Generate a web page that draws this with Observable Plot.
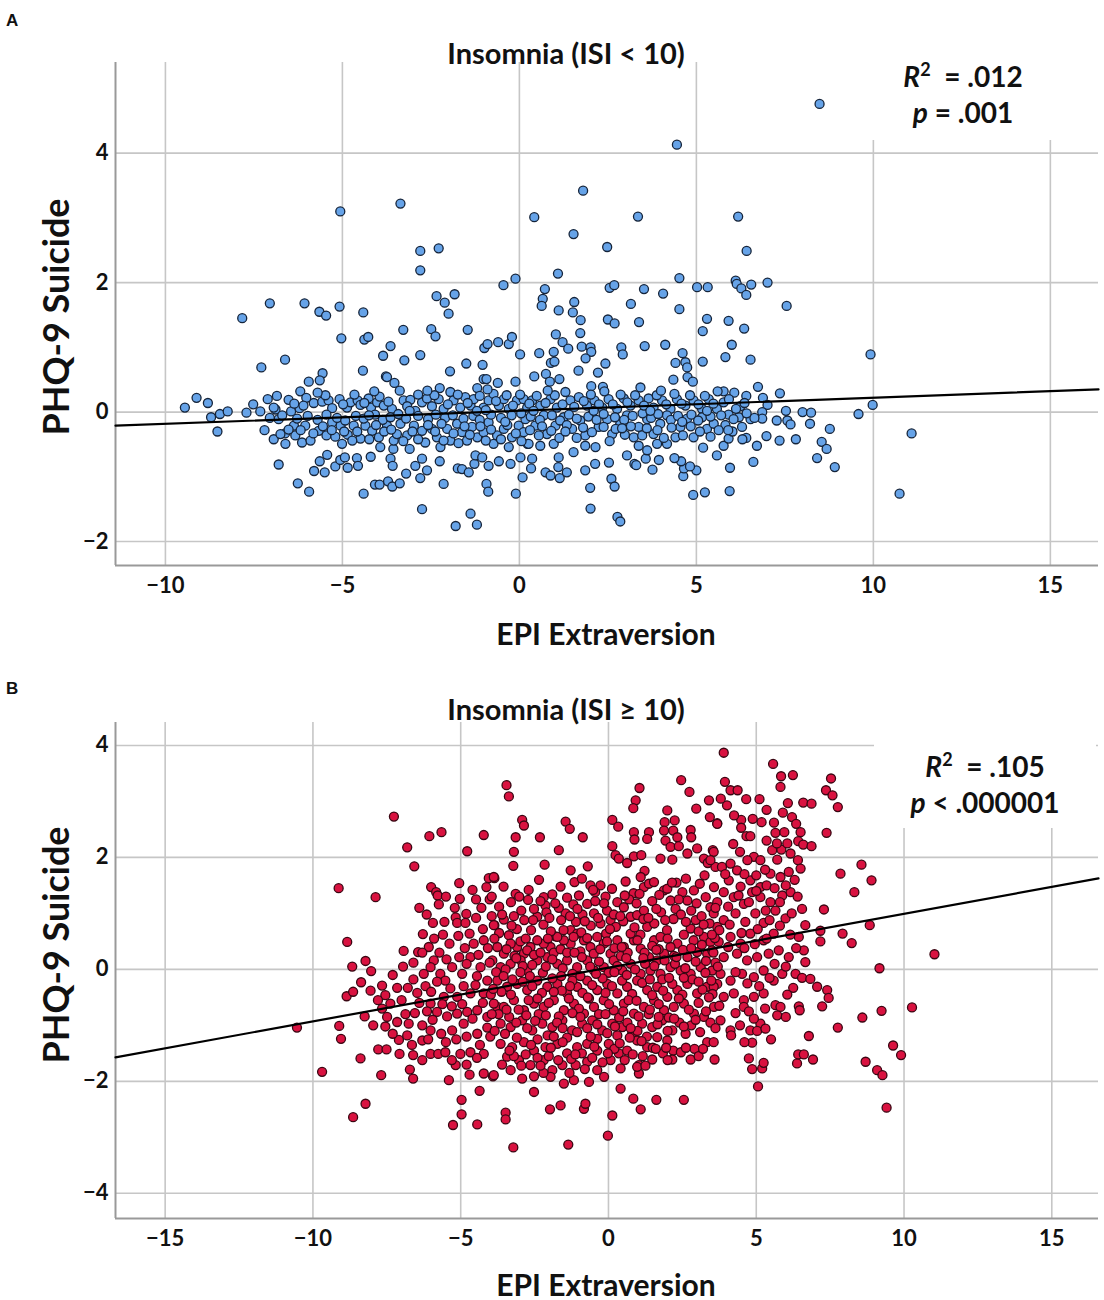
<!DOCTYPE html>
<html>
<head>
<meta charset="utf-8">
<script src="https://cdn.jsdelivr.net/npm/d3@7"></script>
<script src="https://cdn.jsdelivr.net/npm/@observablehq/plot@0.6"></script>
<style>
  html, body { margin: 0; padding: 0; background: #fff; }
  #page { position: relative; width: 1104px; height: 1300px; background: #fff; font-family: Lato, "Open Sans", sans-serif; color: #111; }
  .panel { position: absolute; left: 0; }
  .tag { position: absolute; font-family: "Liberation Sans", Arial, sans-serif; font-weight: bold; font-size: 17px; }
  .title { position: absolute; transform: translate(-50%, -50%); font-weight: bold; font-size: 29px; white-space: nowrap; }
  .xlabel { position: absolute; transform: translate(-50%, -50%); font-weight: bold; font-size: 30px; white-space: nowrap; }
  .ylabel { position: absolute; transform: translate(-50%, -50%) rotate(-90deg); font-weight: bold; font-size: 36px; white-space: nowrap; }
  .stat { position: absolute; background: #fff; font-weight: bold; font-size: 28px; text-align: center; line-height: 36px; }
  .stat i { font-style: italic; }
  .stat sup { font-size: 18px; font-style: normal; vertical-align: 11px; line-height: 0; }
</style>
</head>
<body>
<div id="page"></div>
<script>
// ---------- Panel A data: Insomnia (ISI < 10) — [EPI Extraversion, PHQ-9 Suicide]
const pointsLowISI = [
[-9.45,0.07],[-9.12,0.22],[-8.80,0.14],[-8.71,-0.08],[-8.46,-0.03],[-8.24,0.01],[-8.53,-0.30],[-7.83,1.45],
[-7.05,1.68],[-6.07,1.68],[-5.65,1.55],[-5.46,1.49],[-5.08,1.63],[-4.41,1.54],[-7.29,0.69],[-6.62,0.81],[-5.03,1.14],[-4.38,1.12],[-4.27,1.16],[-3.28,1.27],[-3.64,1.02],[-3.85,0.87],[-3.25,0.80],[-4.42,0.64],[-3.77,0.55],[-5.56,0.60],[-6.89,0.04],[-6.62,-0.33],[-3.56,-0.57],[-5.06,3.10],
[-6.80,-0.81],[-6.26,-1.10],[-5.94,-1.23],[-5.64,-0.76],[-5.80,-0.91],[-5.50,-0.93],[-5.43,-0.66],[-5.20,-0.84],[-5.06,-0.74],[-4.93,-0.70],[-4.85,-0.86],[-4.59,-0.71],[-4.56,-0.83],[-4.40,-1.26],[-4.08,-1.12],[-3.95,-1.12],[-3.71,-1.07],[-3.59,-1.15],[-3.38,-1.10],[-4.20,-0.69],[-3.64,-0.72],[-3.58,-0.83],[-3.20,-0.95],
[-3.36,3.22],[-2.80,2.49],[-2.28,2.53],[-2.80,2.19],[1.80,3.42],[0.42,3.01],[3.35,3.02],[1.53,2.75],[2.48,2.55],[1.09,2.14],[-0.45,1.96],[-0.11,2.06],[-2.34,1.79],[-1.83,1.82],[-2.11,1.69],[-2.00,1.52],[-2.49,1.28],[-2.37,1.17],[-1.46,1.27],[-2.80,0.88],[-1.96,0.63],[-1.50,0.75],[-1.04,0.73],[-1.01,0.51],[-0.93,0.51],
[-0.99,0.99],[-0.90,1.05],[-0.60,1.08],[-0.30,1.05],[-0.21,1.16],[0.02,0.89],[-0.11,0.47],[-0.61,0.45],[-1.19,0.37],[-2.25,0.37],[0.72,1.90],[0.66,1.75],[0.63,1.64],[1.11,1.57],[1.55,1.70],[1.51,1.54],[1.73,1.42],[1.03,1.20],[1.22,1.08],[1.38,0.98],[1.72,1.22],[1.76,1.01],[2.01,1.00],[2.03,0.93],[1.87,0.83],[0.97,0.93],[0.56,0.91],[0.89,0.76],[0.99,0.78],[0.75,0.59],[0.86,0.47],[1.13,0.51],[0.42,0.55],[1.67,0.64],[2.22,0.61],[2.43,0.75],[2.03,0.40],[2.36,0.39],[2.55,1.92],[2.68,1.96],[2.50,1.43],[2.69,1.37],[3.15,1.67],[3.52,1.90],[4.06,1.83],[3.38,1.39],[2.88,1.00],[2.92,0.89],[3.54,1.02],[4.12,1.04],[3.42,0.38],
[-2.80,-1.02],[-2.61,-0.90],[-2.14,-1.11],[-2.75,-1.50],[-1.80,-1.76],[-1.38,-1.57],[-1.20,-1.74],[-1.74,-0.87],[-1.62,-0.88],[-1.43,-0.93],[-1.27,-0.80],[-0.93,-1.11],[-0.88,-1.23],[-0.10,-1.26],[0.09,-1.01],[0.33,-0.87],[0.74,-0.93],[0.88,-0.98],[1.14,-1.02],[1.34,-0.93],[1.10,-0.85],[1.86,-0.90],[2.00,-1.17],[2.01,-1.49],[2.14,-0.80],[2.53,-0.78],[2.60,-1.03],[2.69,-1.15],[2.77,-1.62],[2.85,-1.69],[3.25,-0.80],[3.30,-0.82],[3.57,-0.72],[3.76,-0.89],[3.94,-0.74],
[8.48,4.76],[4.45,4.13],[6.18,3.02],[6.42,2.49],[4.52,2.07],[5.02,1.93],[5.32,1.93],[6.11,2.03],[6.14,1.98],[6.27,1.91],[6.41,1.81],[6.55,1.97],[7.01,2.00],[7.55,1.64],[4.52,1.59],[5.30,1.44],[5.18,1.25],[5.91,1.41],[6.35,1.29],[6.00,1.04],[4.61,0.91],[4.69,0.77],[4.74,0.69],[4.41,0.76],[5.18,0.78],[5.82,0.85],[6.53,0.81],[4.35,0.50],[4.75,0.54],[4.90,0.47],[9.92,0.89],[9.98,0.11],[9.58,-0.03],[11.08,-0.33],[10.74,-1.26],[8.91,-0.85],[8.77,-0.26],[8.54,-0.46],[8.68,-0.57],[8.41,-0.71],[8.00,0.00],[8.24,-0.01],[8.21,-0.18],[7.81,-0.42],[7.36,0.29],[7.53,0.02],[7.57,-0.13],[7.66,-0.19],[7.27,-0.13],[7.35,-0.44],[6.98,-0.37],[6.71,-0.52],[6.61,-0.77],[6.74,0.39],[6.88,0.22],[7.01,0.11],[6.86,0.00],[6.86,-0.10],[6.41,-0.40],[6.29,-0.23],[6.53,-0.11],[6.64,-0.09],[6.07,0.30],[6.41,0.25],[5.77,0.32],[5.95,-0.86],[5.94,-1.22],[5.58,-0.67],[5.77,-0.52],[5.91,-0.41],[5.19,-0.55],[4.91,-1.28],[5.24,-1.24],[5.00,-0.90],[4.63,-0.99],[4.65,-0.87],[4.82,-0.84],[4.57,-0.76],[4.38,-0.71],
[-7.71,-0.01],[-7.52,0.12],[-7.32,0.01],[-7.11,0.20],[-6.94,0.07],[-6.80,-0.11],[-6.52,0.19],[-6.45,0.01],[-6.21,0.06],[-6.19,0.32],[-5.95,0.47],[-5.64,0.49],[-5.81,0.14],[-5.57,0.16],[-5.39,0.18],[-5.29,0.06],[-5.08,0.20],[-4.87,0.07],[-4.77,0.15],[-4.57,0.18],[-4.49,0.11],[-4.26,0.21],[-4.19,0.07],[-4.02,0.15],[-3.83,0.10],[-3.74,0.54],[-3.53,0.45],[-3.38,0.33],[-3.60,0.05],[-3.27,0.18],[-3.08,0.19],[-2.94,0.02],[-2.75,0.15],[-2.61,0.21],[-2.47,0.09],[-2.28,0.20],[-2.14,0.05],[-1.95,0.31],[-1.86,0.18],[-1.67,0.07],[-1.53,0.23],[-1.38,0.10],[-1.29,0.20],[-1.01,0.07],[-0.87,0.18],[-0.73,0.28],[-0.58,0.10],[-0.44,0.20],[-0.30,0.05],[-0.07,0.18],[0.12,0.20],[0.22,0.07],
[-6.94,-0.42],[-6.75,-0.34],[-6.61,-0.49],[-6.37,-0.21],[-6.33,-0.36],[-6.14,-0.47],[-5.90,-0.44],[-6.05,-0.21],[-5.67,-0.29],[-5.45,-0.36],[-5.29,-0.16],[-5.05,-0.21],[-5.01,-0.49],[-4.85,-0.35],[-4.68,-0.21],[-4.49,-0.41],[-4.35,-0.21],[-4.16,-0.29],[-3.97,-0.39],[-3.93,-0.54],[-3.74,-0.21],[-3.55,-0.44],[-3.46,-0.34],[-3.36,-0.18],[-3.17,-0.36],[-3.10,-0.57],[-2.98,-0.21],[-2.75,-0.29],[-2.66,-0.47],[-2.47,-0.26],[-2.33,-0.39],[-2.23,-0.54],[-2.04,-0.26],[-1.95,-0.44],[-1.76,-0.18],[-1.62,-0.31],[-1.48,-0.44],[-1.34,-0.23],[-1.19,-0.39],[-1.01,-0.31],[-0.87,-0.16],[-0.73,-0.49],[-0.63,-0.36],[-0.44,-0.26],[-0.30,-0.54],[-0.21,-0.39],[-0.02,-0.21],[0.12,-0.31],[0.23,-0.49],
[-2.94,-0.83],[-2.75,-0.72],[-2.25,-0.76],[-1.24,-0.67],[-1.05,-0.70],[-0.87,-0.83],[-0.58,-0.76],[-0.25,-0.80],[0.03,-0.70],
[0.36,0.18],[0.59,0.10],[0.88,0.20],[1.06,0.07],[1.30,0.31],[1.44,0.18],[1.68,0.23],[1.91,0.10],[2.12,0.18],[2.34,0.07],[2.52,0.20],[2.76,0.05],[2.95,0.21],[3.14,0.10],[3.37,0.18],[3.65,0.21],[3.79,0.07],[4.03,0.18],[4.27,0.05],[4.45,0.20],[4.69,0.10],[4.92,0.18],[5.16,0.05],[5.35,0.20],[5.58,0.05],[5.77,0.15],[6.24,0.09],
[0.17,-0.11],[0.45,-0.21],[0.69,-0.05],[0.78,-0.34],[1.02,-0.21],[1.25,-0.08],[1.49,-0.26],[1.72,-0.13],[1.86,-0.36],[2.05,-0.04],[2.24,-0.23],[2.48,-0.11],[2.62,-0.34],[2.85,-0.18],[3.04,-0.05],[3.23,-0.39],[3.37,-0.23],[3.61,-0.11],[3.79,-0.34],[3.98,-0.18],[4.17,-0.05],[4.41,-0.39],[4.55,-0.23],[4.74,-0.10],[4.92,-0.39],[5.16,-0.08],[5.30,-0.26],[5.49,-0.18],[5.82,-0.20],[5.91,-0.04],[6.20,-0.08],
[0.26,-0.49],[0.59,-0.52],[0.97,-0.49],[1.11,-0.70],[0.36,-0.72],[1.53,-0.62],[1.86,-0.52],[2.15,-0.54],[3.04,-0.67],[3.37,-0.52],[3.61,-0.59],[3.89,-0.49],[4.17,-0.49],
[-7.05,-0.09],[-6.70,-0.05],[-6.28,-0.10],[-5.98,-0.06],[-5.70,-0.12],[-5.45,-0.04],[-5.15,-0.09],[-4.92,-0.13],[-4.62,-0.06],[-4.40,-0.10],[-4.08,-0.04],[-3.86,-0.12],[-3.64,-0.08],[-3.42,-0.03],[-3.20,-0.10],[-2.86,-0.06],[-2.58,-0.11],[-2.36,-0.04],[-2.10,-0.09],[-1.88,-0.05],[-1.58,-0.10],[-1.30,-0.06],[-1.12,-0.12],[-0.80,-0.04],[-0.52,-0.09],[-0.22,-0.05],[0.05,-0.02],[0.32,-0.07],[0.58,-0.12],[0.92,-0.05],[1.15,-0.13],[1.40,-0.04],[1.62,-0.10],[1.95,-0.07],[2.18,-0.12],[2.38,-0.03],[2.70,-0.08],[2.96,-0.12],[3.20,-0.06],[3.48,-0.02],[3.72,-0.09],[3.92,-0.03],[4.28,-0.12],[4.48,-0.06],[4.86,-0.04],[5.05,-0.13],[5.40,-0.07],[5.70,-0.05],[6.05,-0.11],[6.42,-0.02],
[-6.85,0.25],[-6.36,0.13],[-6.02,0.22],[-5.48,0.26],[-4.98,0.12],[-4.66,0.27],[-4.38,0.14],[-3.95,0.24],[-3.70,0.16],[-3.17,0.09],[-2.86,0.27],[-2.40,0.26],[-2.02,0.12],[-1.74,0.27],[-1.46,0.14],[-1.12,0.25],[-0.95,0.03],[-0.66,0.17],[-0.36,0.26],[-0.18,0.10],[0.02,0.27],[0.28,0.13],[0.49,0.25],[0.74,0.14],[1.00,0.26],[1.22,0.12],[1.55,0.08],[1.82,0.17],[2.02,0.27],[2.25,0.12],[2.64,0.12],[2.86,0.27],[3.05,0.15],[3.27,0.26],[3.52,0.10],[3.88,0.26],[4.15,0.12],[4.38,0.28],[4.58,0.13],[4.82,0.26],[5.06,0.12],[5.24,0.25],[5.48,0.13],[5.92,0.20],[6.12,0.05],[6.36,0.14],
[-7.20,-0.28],[-6.52,-0.27],[-6.18,-0.28],[-5.82,-0.33],[-5.55,-0.22],[-5.20,-0.38],[-4.95,-0.30],[-4.72,-0.44],[-4.58,-0.30],[-4.24,-0.42],[-4.05,-0.20],[-3.82,-0.30],[-3.62,-0.27],[-3.28,-0.45],[-3.02,-0.30],[-2.86,-0.42],[-2.58,-0.20],[-2.38,-0.30],[-2.14,-0.44],[-1.86,-0.33],[-1.72,-0.48],[-1.55,-0.22],[-1.40,-0.35],[-1.10,-0.22],[-0.95,-0.44],[-0.80,-0.27],[-0.52,-0.42],[-0.34,-0.20],[-0.10,-0.33],[0.06,-0.45],[0.30,-0.28],[0.55,-0.36],[0.64,-0.22],[0.90,-0.29],[1.13,-0.40],[1.34,-0.20],[1.62,-0.40],[1.80,-0.24],[2.05,-0.31],[2.38,-0.23],[2.55,-0.45],[2.72,-0.26],[2.98,-0.35],[3.15,-0.22],[3.47,-0.36],[3.60,-0.25],[3.90,-0.28],[4.08,-0.40],[4.30,-0.24],[4.62,-0.36],[4.84,-0.22],[5.10,-0.30],[5.40,-0.38],[5.63,-0.28],[6.02,-0.30],[6.30,-0.42],
[-6.10,0.10],[-5.30,-0.28],[-4.25,-0.05],[-3.10,0.02],[-2.20,-0.18],[-1.20,0.02],[-0.40,-0.15],[0.40,0.02],[1.30,-0.30],[2.10,0.02],[2.90,-0.25],[3.70,0.02],[4.60,-0.15],[5.30,0.02],[5.90,-0.28],[-5.70,0.30],[-4.10,0.32],[-2.60,0.33],[-0.90,0.35],[0.80,0.33],[2.40,0.32],[4.00,0.33],[5.60,0.32]
];

// ---------- Panel B data: Insomnia (ISI ≥ 10) — [EPI Extraversion, PHQ-9 Suicide]
const pointsHighISI = [
[-7.26,2.73],[-6.06,2.38],[-5.65,2.45],[-4.22,2.40],[-6.81,2.18],[-4.78,2.11],[-6.57,1.84],[-9.13,1.45],[-7.88,1.29],[-6.00,1.47],[-5.83,1.38],[-5.78,1.32],[-5.05,1.54],[-5.74,1.16],[-5.03,1.26],[-4.48,1.25],[-4.05,1.63],[-3.86,1.63],[-4.13,1.47],[-5.20,1.10],[-4.81,0.99],[-5.17,0.93],[-5.12,0.83],[-4.84,0.83],[-4.70,0.64],[-4.48,0.92],[-5.94,0.83],[-6.28,0.63],[-3.86,0.79],[-8.84,0.49],[-6.93,0.33],[-6.44,0.31],[-6.08,0.40],[-5.38,0.46],[-4.56,0.46],[-4.22,0.52],[-8.22,0.15],[-8.67,0.05],[-8.03,-0.03],[-8.37,-0.23],[-8.86,-0.48],[-8.64,-0.40],[-8.05,-0.38],[-7.66,-0.29],[-7.55,-0.46],[-7.15,-0.33],[-7.38,-0.61],[-7.66,-0.70],[-7.49,-0.85],[-7.15,-0.94],[-6.87,-0.80],[-6.76,-0.97],[-6.79,-0.33],[-6.47,-0.42],[-6.19,-0.30],[-6.25,-0.08],[-5.91,0.16],[-6.02,0.04],[-5.69,-0.08],[-5.52,-0.20],[-5.29,0.04],[-4.95,-0.08],[-4.67,0.22],[-4.33,0.04],[-4.10,-0.20],[-6.02,-0.61],[-5.57,-0.49],[-5.12,-0.49],[-4.67,-0.43],[-4.22,-0.43],[-6.14,-0.75],[-5.80,-0.76],[-5.46,-0.84],[-5.12,-0.79],[-4.78,-0.76],[-4.44,-0.73],[-4.10,-0.85],[-3.76,-0.67],[-10.54,-1.04],[-9.11,-1.01],[-9.05,-1.24],[-8.25,-0.84],[-7.96,-1.00],[-7.55,-1.02],[-7.09,-1.26],[-6.81,-1.18],[-6.30,-1.00],[-6.30,-1.27],[-6.02,-1.09],[-5.66,-1.15],[-5.29,-1.09],[-4.90,-0.97],[-4.44,-1.15],[-4.10,-1.04],[-8.39,-1.59],[-7.79,-1.43],[-7.51,-1.43],[-7.07,-1.51],[-6.61,-1.53],[-6.02,-1.51],[-5.76,-1.51],[-5.52,-1.48],[-5.01,-1.51],[-4.67,-1.48],[-4.22,-1.51],[-9.69,-1.83],[-7.69,-1.89],[-6.72,-1.79],[-6.61,-1.95],[-5.40,-1.98],[-5.17,-1.71],[-4.70,-1.88],[-4.22,-1.86],[-3.91,-1.91],[-4.36,-2.17],[-4.97,-2.33],[-4.97,-2.59],[-8.22,-2.40],[-8.64,-2.64],[-5.26,-2.78],[-4.44,-2.77],
[-3.45,3.29],[-3.37,3.09],[-2.92,2.67],[-2.86,2.57],[-3.14,2.36],[-3.20,2.10],[-3.22,1.85],[-2.32,2.36],[-2.16,1.87],[-1.68,2.13],[-1.45,2.64],[-1.31,2.51],[-0.87,2.36],[-1.28,1.77],[-0.70,1.84],[0.13,2.67],[0.33,2.55],[0.13,2.20],[0.24,2.04],[0.35,1.98],[0.63,1.90],[0.86,2.02],[1.11,2.04],[1.05,3.24],[0.92,3.02],[0.84,2.88],[0.86,2.45],[1.37,2.45],[0.88,2.32],[1.31,2.33],[1.22,1.76],[1.99,2.84],[1.90,2.63],[2.24,2.66],[1.88,2.48],[2.19,2.48],[2.33,2.36],[1.93,2.30],[2.10,2.19],[2.38,2.20],[1.76,1.98],[2.16,1.96],[2.67,2.07],[2.78,2.49],[2.80,2.36],[3.00,2.16],[2.46,3.38],[2.74,3.17],[2.97,2.87],[3.40,3.02],[3.43,2.72],[3.68,2.61],[3.53,2.13],[3.23,1.98],[3.36,1.90],[3.62,1.83],[-3.88,1.65],[-3.14,1.35],
[-3.54,0.89],[-3.37,0.61],[-3.88,0.79],[-2.41,0.94],[-2.52,1.08],[-2.19,1.29],[-1.90,1.34],[-2.13,1.14],[-1.79,0.59],[-1.45,1.00],[-1.28,0.70],[-1.19,1.16],[-1.00,1.32],[-0.72,1.17],[-0.61,1.50],[-0.27,1.50],[-0.10,1.30],[-0.49,1.00],[-0.27,0.82],[0.07,0.88],[0.30,1.20],[0.52,1.11],[0.75,0.94],[0.97,0.97],[1.31,0.76],[1.54,0.52],[1.76,0.58],[1.20,1.47],[1.37,1.53],[1.09,1.65],[1.54,1.56],[1.88,1.41],[2.10,1.23],[2.27,1.08],[1.99,1.44],[2.50,1.38],[2.67,1.23],[2.89,1.41],[3.09,1.53],[3.29,1.29],[3.45,1.11],[3.57,1.47],[2.95,0.88],[2.78,0.73],[3.23,0.58],[3.45,0.49],[3.68,0.76],[3.34,0.28],[3.00,0.31],[2.67,0.22],[2.33,0.46],[2.10,0.40],[1.88,0.28],[1.65,0.16],[1.37,0.22],[1.09,0.37],[0.86,0.52],[0.75,0.64],[0.52,0.40],[0.30,0.52],[0.07,0.28],[-0.16,0.46],[-0.38,0.58],[-0.61,0.40],[-0.83,0.52],[-1.06,0.64],[-1.28,0.46],[-1.51,0.52],[-1.73,0.58],[-1.96,0.40],[-2.19,0.46],[-2.41,0.52],[-2.64,0.40],[-2.86,0.28],[-3.09,0.40],[-3.31,0.46],[-3.54,0.28],[-3.76,0.40],[-3.93,0.16],[-3.65,0.04],[-3.31,0.10],[-2.97,0.16],[-2.75,-0.02],[-2.41,0.16],[-2.07,0.22],[-1.73,0.10],[-1.40,0.16],[-1.06,0.04],[-0.72,0.16],[-0.49,-0.02],[-0.16,0.04],[0.18,0.16],[0.47,-0.02],[0.75,0.10],[1.09,-0.08],[1.42,-0.02],[1.76,-0.08],[2.10,0.04],[2.44,-0.02],[2.78,-0.08],[3.12,0.04],[3.51,-0.02],
[-3.76,-0.20],[-3.43,-0.31],[-3.09,-0.26],[-2.75,-0.37],[-2.41,-0.20],[-2.07,-0.31],[-1.73,-0.26],[-1.40,-0.43],[-1.06,-0.31],[-0.72,-0.20],[-0.38,-0.37],[-0.04,-0.26],[0.30,-0.43],[0.63,-0.31],[0.97,-0.20],[1.31,-0.37],[1.65,-0.31],[1.99,-0.49],[2.33,-0.37],[2.67,-0.26],[3.00,-0.43],[3.34,-0.31],[3.68,-0.26],[-3.88,-0.61],[-3.54,-0.67],[-3.20,-0.55],[-2.86,-0.73],[-2.52,-0.61],[-2.19,-0.67],[-1.85,-0.55],[-1.51,-0.73],[-1.17,-0.61],[-0.83,-0.79],[-0.49,-0.67],[-0.16,-0.55],[0.18,-0.73],[0.52,-0.61],[0.86,-0.79],[1.20,-0.67],[1.54,-0.55],[1.88,-0.73],[2.21,-0.67],[2.55,-0.61],[2.89,-0.79],[3.23,-0.85],[3.57,-0.67],[-3.65,-0.97],[-3.31,-1.03],[-2.92,-0.91],[-2.58,-1.09],[-2.24,-0.97],[-1.90,-1.03],[-1.56,-0.91],[-1.23,-1.09],[-0.89,-0.97],[-0.55,-0.91],[-0.21,-1.09],[0.13,-0.97],[0.47,-1.03],[0.80,-1.15],[1.14,-0.97],[1.48,-1.03],[1.82,-0.91],[2.16,-1.09],[-3.65,-1.33],[-3.26,-1.39],[-2.86,-1.30],[-2.52,-1.45],[-2.13,-1.39],[-1.73,-1.33],[-1.40,-1.50],[-1.06,-1.39],[-0.72,-1.33],[-0.38,-1.45],[0.01,-1.33],[0.35,-1.50],[0.63,-1.45],[0.97,-1.27],[1.31,-1.39],[1.65,-1.21],[1.99,-1.27],[2.19,-1.45],[2.61,-1.15],[2.91,-1.42],[3.34,-1.30],[1.48,-1.61],[2.16,-1.61],[2.78,-1.61],[3.59,-1.61],[-3.43,-1.56],[-3.03,-1.62],[-2.64,-1.71],[-2.19,-1.62],[-1.90,-1.80],[-1.56,-1.71],[-1.11,-1.71],[-0.72,-1.65],[-0.38,-1.80],[0.07,-1.62],[0.41,-1.77],[1.03,-1.71],[-3.88,-1.89],[-3.31,-1.80],[-2.92,-1.95],[-2.52,-1.91],[-1.96,-1.92],[-1.51,-2.04],[-1.17,-1.98],[-0.66,-2.01],
[-2.52,-2.19],[-1.98,-2.50],[-1.62,-2.43],[-0.83,-2.49],[-0.78,-2.40],[-3.48,-2.56],[-3.48,-2.68],[-3.22,-3.18],[-1.36,-3.13],[-0.02,-2.97],[0.13,-2.61],[0.41,-2.13],[0.84,-2.31],[1.09,-2.50],[1.62,-2.33],[2.55,-2.33],[1.03,-1.86],[0.97,-1.74],
[3.90,3.87],[5.57,3.67],[5.84,3.45],[6.24,3.47],[5.82,3.26],[7.53,3.41],[7.36,3.20],[7.58,3.11],[7.76,2.90],[3.94,3.35],[4.13,3.20],[4.37,3.20],[4.66,3.04],[5.11,3.04],[4.01,2.93],[6.07,2.97],[6.59,2.98],[6.87,2.96],[5.90,2.80],[6.21,2.72],[4.88,2.69],[5.18,2.63],[4.49,2.67],[4.49,2.53],[4.67,2.38],[4.80,2.38],[5.65,2.44],[6.50,2.45],[6.42,2.29],[6.59,2.23],[6.87,2.20],[7.38,2.44],[3.68,2.60],[4.22,2.24],[5.54,2.13],[5.85,2.14],[6.16,2.07],[6.41,1.95],[4.92,2.01],[5.14,1.95],[5.71,1.96],[3.56,2.10],[3.45,1.95],[3.84,1.83],[4.13,1.89],[4.35,1.77],[4.07,1.59],[4.47,1.48],[4.80,1.59],[5.14,1.47],[5.48,1.71],[5.82,1.65],[6.10,1.74],[6.16,1.38],[5.88,1.32],[5.48,1.20],[5.14,1.29],[4.86,1.38],[4.58,1.17],[4.24,1.29],[3.90,1.38],[3.68,1.20],[3.56,1.00],[3.90,0.88],[4.30,1.00],[4.63,0.85],[4.97,1.00],[5.25,0.83],[5.65,1.05],[5.99,0.91],[6.55,1.08],[6.66,0.79],[6.44,0.58],[5.59,0.64],[5.25,0.52],[4.80,0.64],[4.47,0.46],[4.13,0.58],[3.73,0.49],[3.51,0.34],[3.90,0.22],[4.35,0.28],[4.69,0.16],[5.03,0.22],[5.42,0.28],[5.76,0.34],[6.10,0.22],[6.61,0.34],[6.66,0.13],[6.33,-0.08],[6.55,-0.15],[6.83,-0.17],[7.06,-0.31],[7.40,-0.37],[7.45,-0.51],[7.23,-0.66],[6.44,-0.66],[6.47,-0.73],[6.25,-0.33],[5.88,-0.08],[5.59,-0.20],[5.25,-0.02],[4.92,-0.14],[4.52,-0.08],[4.13,-0.20],[3.79,-0.08],[3.56,-0.31],[3.90,-0.49],[4.24,-0.43],[4.58,-0.55],[4.92,-0.49],[5.25,-0.43],[5.65,-0.64],[5.82,-0.67],[5.71,-0.82],[5.14,-0.97],[4.92,-0.88],[4.80,-1.09],[5.03,-1.10],[5.31,-1.06],[4.58,-0.67],[4.13,-1.09],[3.79,-0.91],[3.56,-1.30],[4.15,-1.18],[4.86,-1.31],[4.75,-1.59],[4.86,-1.78],[5.20,-1.77],[5.25,-1.67],[5.06,-2.09],[6.38,-1.68],[6.42,-1.52],[6.61,-1.52],[6.92,-1.61],[6.78,-1.19],[7.76,-1.04],[8.59,-0.86],[9.24,-0.74],[10.27,-0.68],[9.63,-1.36],[9.90,-1.53],[8.70,-1.65],[9.09,-1.80],[9.27,-1.89],[9.41,-2.47],[9.17,0.02],[11.03,0.27],[8.23,0.47],[7.92,0.64],[8.84,0.79],[7.17,0.69],[7.17,0.50],[7.29,1.07],[7.85,1.71],[8.32,1.38],[8.56,1.87],[8.90,1.59],
[-2.70,1.42],[-1.62,1.48],[-1.15,1.56],[-0.45,1.38],[0.12,1.44],[0.58,1.57],[0.85,1.36],[1.72,1.33],[2.30,1.55],[2.62,1.62],[3.25,1.68],[-3.55,1.48],[-2.35,1.60],[-0.90,1.62],
[-3.70,1.12],[-3.30,1.20],[-2.95,1.05],[-2.72,1.24],[-1.68,1.10],[-1.40,1.28],[-0.88,0.98],[-0.45,1.22],[-0.05,1.05],[0.18,0.98],[0.70,1.25],[0.95,1.18],[1.20,1.05],[1.48,1.22],[1.78,1.02],[2.45,0.98],[2.80,1.05],[3.15,0.95],[3.62,1.10],[-2.10,1.02],
[-3.70,0.65],[-3.10,0.72],[-2.85,0.88],[-2.62,0.70],[-2.20,0.80],[-1.95,0.68],[-1.60,0.88],[-1.10,0.85],[-0.92,0.66],[-0.60,0.78],[-0.08,0.64],[0.25,0.76],[0.50,0.86],[1.08,0.62],[1.18,0.90],[1.55,0.82],[1.98,0.70],[2.20,0.90],[2.55,0.62],[3.05,0.68],[3.42,0.82],[-3.20,0.95],
[-3.86,0.55],[-3.45,0.36],[-3.18,0.24],[-2.98,0.50],[-2.75,0.34],[-2.52,0.26],[-2.30,0.30],[-2.05,0.55],[-1.85,0.30],[-1.62,0.36],[-1.40,0.30],[-1.18,0.58],[-0.95,0.32],[-0.72,0.56],[-0.50,0.28],[-0.28,0.36],[-0.05,0.50],[0.20,0.38],[0.42,0.24],[0.65,0.30],[0.98,0.52],[1.22,0.30],[1.48,0.42],[1.70,0.36],[2.00,0.55],[2.22,0.24],[2.52,0.35],[2.88,0.52],[3.16,0.44],[3.55,0.30],[3.60,0.56],
[-3.80,-0.05],[-3.48,0.00],[-3.12,0.20],[-2.90,0.06],[-2.58,0.08],[-2.22,-0.06],[-1.90,0.18],[-1.55,0.02],[-1.22,-0.08],[-0.90,0.22],[-0.62,0.05],[-0.32,0.14],[0.00,-0.06],[0.30,0.06],[0.60,0.20],[0.90,0.00],[1.24,0.10],[1.55,0.06],[1.90,0.16],[2.25,0.10],[2.60,0.02],[2.95,0.14],[3.28,-0.06],[3.62,0.12],
[-3.62,-0.40],[-3.25,-0.18],[-2.90,-0.22],[-2.58,-0.30],[-2.25,-0.42],[-1.90,-0.16],[-1.58,-0.38],[-1.22,-0.20],[-0.88,-0.42],[-0.55,-0.28],[-0.20,-0.16],[0.12,-0.30],[0.46,-0.20],[0.80,-0.44],[1.14,-0.24],[1.48,-0.46],[1.82,-0.18],[2.16,-0.26],[2.50,-0.45],[2.84,-0.18],[3.18,-0.36],[3.52,-0.44],
[-3.72,-0.80],[-3.36,-0.85],[-3.04,-0.72],[-2.70,-0.55],[-2.36,-0.80],[-2.02,-0.60],[-1.68,-0.84],[-1.34,-0.52],[-1.00,-0.70],[-0.66,-0.52],[-0.32,-0.80],[0.02,-0.62],[0.36,-0.86],[0.68,-0.55],[1.02,-0.84],[1.36,-0.80],[1.70,-0.62],[2.04,-0.86],[2.38,-0.52],[2.72,-0.72],[3.05,-0.60],[3.40,-0.50],
[-3.50,-1.15],[-3.10,-1.22],[-2.75,-1.05],[-2.40,-1.25],[-2.06,-1.18],[-1.74,-0.95],[-1.40,-1.22],[-1.06,-1.12],[-0.72,-1.05],[-0.38,-1.24],[-0.04,-1.14],[0.30,-1.18],[0.64,-0.95],[0.98,-1.10],[1.30,-1.20],[1.66,-0.98],[2.00,-1.10],[2.40,-0.95],[2.80,-1.00],[3.10,-1.12],[3.45,-0.95],
[-3.60,-1.70],[-3.20,-1.55],[-2.80,-1.52],[-2.40,-1.58],[-2.02,-1.55],[-1.70,-1.62],[-1.26,-1.60],[-0.90,-1.50],[-0.55,-1.58],[-0.20,-1.66],[0.20,-1.42],[0.55,-1.62],[0.82,-1.52],[1.16,-1.55],[1.50,-1.40],[1.84,-1.50],[2.45,-1.48],[3.05,-1.55],[-2.20,-1.85],[-1.32,-1.85],[-0.15,-1.92],
[-6.40,1.10],[-5.50,1.30],[-4.60,1.42],[-4.30,1.10],[-4.02,1.25],[-6.15,0.98],[-5.55,0.85],[-4.25,0.72],[-3.95,0.95],[-5.90,0.55],[-5.60,0.62],[-5.08,0.60],[-4.86,0.38],[-4.40,0.26],[-4.08,0.38],[-6.60,0.12],[-6.30,0.30],[-5.72,0.30],[-5.48,0.18],[-5.05,0.22],[-4.80,0.10],[-4.45,-0.12],[-4.02,0.12],[-6.60,-0.18],[-6.40,-0.60],[-6.00,-0.40],[-5.80,-0.22],[-5.35,-0.34],[-4.90,-0.30],[-4.50,-0.28],[-3.98,-0.45],[-6.55,-0.78],[-5.95,-0.90],[-5.62,-0.62],[-5.30,-0.66],[-4.95,-0.62],[-4.60,-0.88],[-4.25,-0.60],[-3.95,-0.80],[-6.65,-1.35],[-6.10,-1.25],[-5.50,-1.30],[-5.15,-1.25],[-4.80,-1.20],[-4.35,-1.35],[-4.00,-1.20],[-5.30,-1.62],[-4.80,-1.70],[-4.45,-1.58],[-6.30,-1.62],[-7.30,-0.10],[-7.00,-0.55],[-7.80,-0.55],[-7.30,-1.15],[-6.95,0.05],
[3.80,3.05],[4.25,2.75],[5.35,2.85],[5.60,2.62],[6.35,2.60],[5.35,2.30],[5.95,2.45],[6.05,2.25],[4.45,2.10],[4.70,1.95],[5.30,1.78],[5.70,2.25],[6.30,1.60],[6.50,1.80],[3.95,1.70],[4.60,1.70],[5.00,1.68],[5.35,1.50],[5.62,1.45],[6.00,1.50],[6.40,1.30],[4.05,1.12],[4.40,1.32],[4.75,1.20],[5.00,1.40],[5.32,1.05],[5.80,1.20],[6.20,1.00],[3.75,0.70],[4.10,0.80],[4.50,0.65],[5.05,0.72],[5.45,0.88],[5.80,0.78],[6.15,0.62],[3.70,0.05],[4.05,0.40],[4.60,0.38],[4.95,0.45],[5.35,0.55],[5.62,0.10],[6.00,0.05],[6.35,0.38],[4.30,-0.05],[4.70,-0.25],[5.10,-0.30],[5.45,-0.15],[6.05,-0.45],[3.75,-0.65],[4.30,-0.78],[4.75,-0.75],[5.30,-0.70],[6.00,-0.85],[4.45,-1.00],[4.60,-1.30],[5.50,-1.25],
[-3.95,1.30],[-3.60,0.98],[-3.28,0.78],[-3.02,1.30],[-2.80,0.55],[-2.55,0.88],[-2.30,1.22],[-2.00,0.92],[-1.80,1.18],[-1.52,0.70],[-1.30,0.95],[-1.05,1.08],[-0.80,0.86],[-0.52,1.42],[-0.35,0.92],[-0.15,1.18],[0.05,0.72],[0.40,0.95],[0.55,1.32],[0.88,0.75],[1.05,1.35],[1.35,0.92],[1.62,1.08],[1.92,0.88],[2.15,1.55],[2.38,1.25],[2.62,0.85],[2.98,1.18],[3.22,0.80],[3.50,0.62],
[-3.90,-0.35],[-3.55,-0.12],[-3.30,-0.45],[-2.98,-0.05],[-2.66,-0.12],[-2.40,-0.52],[-2.12,0.05],[-1.85,-0.40],[-1.60,-0.12],[-1.30,-0.30],[-1.15,0.30],[-0.95,-0.12],[-0.70,-0.50],[-0.42,-0.08],[-0.10,-0.42],[0.20,-0.05],[0.45,0.40],[0.62,-0.10],[0.95,-0.56],[1.18,0.20],[1.40,-0.18],[1.62,0.35],[1.85,-0.38],[2.05,-0.15],[2.30,0.22],[2.55,-0.15],[2.80,0.38],[3.05,-0.22],[3.30,0.15],[3.48,-0.20],
[-3.85,-1.10],[-3.45,-0.72],[-3.12,-0.95],[-2.78,-0.82],[-2.48,-0.92],[-2.12,-0.82],[-1.85,-1.20],[-1.55,-1.05],[-1.22,-0.78],[-0.95,-0.85],[-0.60,-1.20],[-0.38,-0.98],[-0.10,-0.80],[0.22,-1.02],[0.50,-0.75],[0.75,-1.05],[1.12,-1.28],[1.40,-0.72],[1.70,-0.85],[1.95,-1.40],[2.22,-0.88],[2.55,-1.02],[2.95,-0.90],[3.30,-0.75],[3.62,-1.05],
[-3.35,-1.45],[-2.95,-1.72],[-2.62,-1.35],[-2.30,-1.72],[-1.95,-1.40],[-1.55,-1.30],[-1.12,-1.52],[-0.80,-1.78],[-0.48,-1.38],[-0.02,-1.50],[0.38,-1.32],[0.72,-1.22],[1.25,-1.72],[1.60,-1.42],[2.00,-1.62],[2.62,-1.40],[3.20,-1.42]
];

// ---------- Axes and fitted lines
const xTicksA = [-10, -5, 0, 5, 10, 15];
const yTicksA = [-2, 0, 2, 4];
const xDomainA = [-11.41, 16.36];
const yDomainA = [-2.37, 5.40];
const fitA = {intercept: 0.02, slope: 0.0202};

const xTicksB = [-15, -10, -5, 0, 5, 10, 15];
const yTicksB = [-4, -2, 0, 2, 4];
const xDomainB = [-16.68, 16.58];
const yDomainB = [-4.45, 4.41];
const fitB = {intercept: 0.032, slope: 0.0961};

const titles = ["Insomnia (ISI < 10)", "Insomnia (ISI \u2265 10)"];
const xLabel = "EPI Extraversion";
const yLabel = "PHQ-9 Suicide";

const fmt = d => d < 0 ? "\u2212" + Math.abs(d) : String(d);

function panel(points, xDomain, yDomain, xTicks, yTicks, fit, fill, stroke, marginTop, marginBottom) {
  const fitLine = xDomain.map(x => ({x, y: fit.intercept + fit.slope * x}));
  return Plot.plot({
    width: 1104,
    height: 650,
    marginLeft: 115,
    marginRight: 6,
    marginTop,
    marginBottom,
    style: {fontFamily: "Lato, 'Open Sans', sans-serif", fontSize: "22px", fontWeight: "bold", color: "#111", background: "#fff"},
    x: {domain: xDomain},
    y: {domain: yDomain},
    marks: [
      Plot.gridX(xTicks, {stroke: "#c6c6c6", strokeOpacity: 1, strokeWidth: 1.6}),
      Plot.gridY(yTicks, {stroke: "#c6c6c6", strokeOpacity: 1, strokeWidth: 1.6}),
      Plot.axisX({ticks: xTicks, tickFormat: fmt, tickSize: 0, tickPadding: 12, label: null}),
      Plot.axisY({ticks: yTicks, tickFormat: fmt, tickSize: 0, tickPadding: 7, label: null}),
      Plot.ruleX([xDomain[0]], {stroke: "#999", strokeWidth: 2}),
      Plot.ruleY([yDomain[0]], {stroke: "#999", strokeWidth: 2}),
      Plot.dot(points, {x: d => d[0], y: d => d[1], r: 4.5, fill, stroke, strokeWidth: 1.3}),
      Plot.line(fitLine, {x: "x", y: "y", stroke: "#000", strokeWidth: 2.2})
    ]
  });
}

const page = document.getElementById("page");

const a = document.createElement("div");
a.className = "panel"; a.style.top = "0px";
a.appendChild(panel(pointsLowISI, xDomainA, yDomainA, xTicksA, yTicksA, fitA, "#66a3e8", "#15243a", 62, 85));
page.appendChild(a);

const b = document.createElement("div");
b.className = "panel"; b.style.top = "650px";
b.appendChild(panel(pointsHighISI, xDomainB, yDomainB, xTicksB, yTicksB, fitB, "#d91240", "#3a0612", 72, 82));
page.appendChild(b);

function add(cls, html, left, top, extra) {
  const el = document.createElement("div");
  el.className = cls;
  el.innerHTML = html;
  el.style.left = left + "px";
  el.style.top = top + "px";
  if (extra) Object.assign(el.style, extra);
  page.appendChild(el);
  return el;
}

add("tag", "A", 6, 11);
add("tag", "B", 6, 679);
add("title", titles[0].replace("<", "&lt;"), 566, 52);
add("title", titles[1], 566, 708);
add("xlabel", xLabel, 606, 633);
add("xlabel", xLabel, 606, 1284);
add("ylabel", yLabel, 55, 317);
add("ylabel", yLabel, 55, 945);
add("stat", "<i>R</i><sup>2</sup>&nbsp; = .012<br><i>p</i> = .001", 868, 58, {width: "190px", height: "82px"});
add("stat", "<i>R</i><sup>2</sup>&nbsp; = .105<br><i>p</i> &lt; .000001", 874, 722, {width: "222px", height: "106px", paddingTop: "26px", boxSizing: "border-box"});
</script>
</body>
</html>
